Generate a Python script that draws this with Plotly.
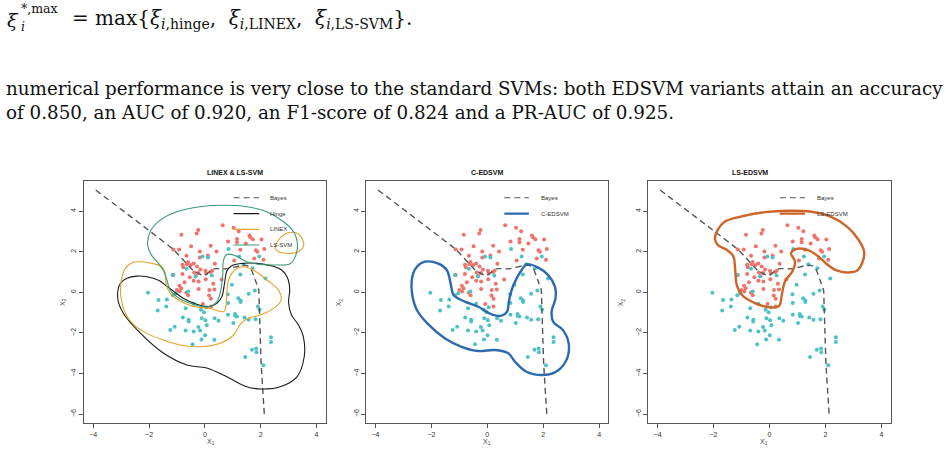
import plotly.graph_objects as go

W, H = 948, 458

# ---------------- data ----------------
red_x = [0.64, 1.03, 1.21, -0.24, -0.29, -0.84, 0.83, 1.15, 1.15, 1.60, 1.63, 1.72, 2.03, 1.47, 1.27,
         1.83, 1.88, 2.13, 2.10, 1.77, 0.42, 0.21, -0.49, -1.13, -0.92, -0.66, -0.18, 0.11, 1.05, 0.36,
         0.26, 0.02, -0.16, -0.28, -0.40, -0.60, -0.64, -0.80, -0.77, -0.80, -1.13, -0.23, -0.38, -0.32,
         -0.54, -0.40, -0.73, -0.91, -1.00, -0.90, -0.66, -0.60, -0.22, 0.16, 0.30, 0.34, 0.15, 0.22,
         -0.07, 0.22, 0.60, -0.18, 0.05, -0.22, 0.03, -0.50, 0.20, -0.85]
red_y = [3.31, 3.18, 3.01, 3.07, 2.90, 2.84, 2.51, 2.63, 2.47, 2.80, 2.72, 2.62, 2.60, 2.41, 2.10,
         2.08, 2.00, 2.13, 1.60, 1.67, 2.01, 2.29, 2.27, 2.11, 2.11, 1.80, 2.01, 1.82, 1.57, 1.41,
         1.06, 1.06, 1.12, 1.27, 1.42, 1.49, 1.39, 1.36, 1.24, 0.91, 0.86, 0.95, 0.98, 0.80,
         0.75, 0.57, 0.50, 0.32, 0.12, 0.04, -0.01, -0.14, 0.17, 0.12, 0.42, 0.14, -0.15, -0.32,
         -0.57, -0.70, 0.63, 1.72, 0.93, 0.54, 0.65, 1.35, 1.00, 0.20]

cyan_x = [0.85, 1.23, 1.95, -0.08, 0.11, -1.16, -0.66, 0.25, 1.27, 1.71, 2.17, 1.39, 0.97, 0.82, 1.79,
          1.57, -2.04, -1.66, -1.36, -1.15, -1.04, -1.69, -1.38, -0.69, -0.79, -0.58, -0.58, -1.24,
          -1.08, -0.69, -0.40, -0.23, -0.17, 0.01, -0.11, 0.02, 0.07, -0.14, -0.03, 0.35, 0.49, 0.83,
          1.02, 1.08, 1.15, 1.09, 1.42, 1.57, 1.82, 1.90, 1.96, 2.37, 2.37, 2.10, 1.45, 1.69, 1.84,
          1.85, -0.44, -0.12, 0.34, -0.34, 0.83, -0.40, -0.60, 1.20, 1.28, 1.28, 0.05]
cyan_y = [2.14, 1.77, 1.77, 1.77, 1.72, 0.86, 1.16, 0.83, 0.88, 1.19, 0.68, 1.39, 0.37, -0.09, 0.09,
          -0.07, -0.02, -0.38, -0.35, -0.14, -0.04, -0.89, -0.70, -0.78, -1.24, -1.35, -1.44, -1.85,
          -1.70, -1.88, -1.93, -1.71, -1.88, -2.11, -1.27, -1.37, -1.62, -0.86, -0.98, -1.27, -1.40, -1.10,
          -1.51, -1.07, -1.19, -1.16, -1.24, -1.35, -1.32, -0.70, -0.86, -2.21, -2.45, -3.59, -3.18, -2.83,
          -2.77, -2.95, -2.55, -2.32, -2.34, 0.78, -0.53, -0.56, 0.04, -0.29, -0.40, -0.48, -0.73]

bayes_x = [-3.91, -1.95, -1.11, -0.40, -0.04, 0.32, 0.79, 1.27, 1.51, 1.65, 1.80, 1.93, 1.95, 1.98, 2.02, 2.13]
bayes_y = [5.04, 2.99, 2.09, 1.06, 0.83, 1.16, 1.16, 1.31, 1.32, 1.16, 0.62, 0.12, -0.62, -1.93, -3.57, -6.00]

hinge_x = [-3.03, -2.79, -2.44, -2.08, -1.66, -1.36, -1.12, -0.76, -0.29, 0.13, 0.43, 0.61, 0.70, 0.79,
           0.95, 1.30, 1.86, 2.40, 2.75, 2.96, 3.04, 3.00, 3.10, 3.35, 3.53, 3.56, 3.30, 2.70, 2.04,
           1.50, 0.79, 0.07, -0.64, -1.49, -2.32, -2.92, -3.12]
hinge_y = [0.44, 0.69, 0.80, 0.77, 0.60, 0.30, 0.05, -0.30, -0.59, -0.71, -0.54, -0.21, 0.40, 1.05,
           1.30, 1.42, 1.43, 1.30, 1.10, 0.72, 0.15, -0.50, -1.10, -1.60, -2.19, -3.17, -4.16, -4.65, -4.76,
           -4.65, -4.16, -3.73, -3.58, -2.99, -2.00, -1.03, -0.30]

linex_x = [-2.32, -1.84, -1.54, -1.42, -1.39, -1.24, -0.88, -0.41, 0.19, 0.67, 0.75, 0.79, 0.85, 1.03,
           1.33, 1.74, 2.22, 2.64, 2.73, 2.46, 1.98, 1.50, 1.27, 1.03, 0.55, -0.17, -0.88, -1.48, -2.08,
           -2.56, -2.85, -3.00, -3.00, -2.85, -2.61]
linex_y = [1.51, 1.41, 1.26, 0.94, 0.44, -0.05, -0.43, -0.69, -0.79, -0.95, -0.71, 0.03, 0.61, 1.05,
           1.26, 1.10, 0.61, 0.11, -0.38, -0.79, -1.12, -1.31, -1.58, -2.10, -2.51, -2.68, -2.59, -2.35,
           -2.02, -1.58, -1.03, -0.30, 0.53, 1.18, 1.46]

linex2_x = [2.52, 2.64, 2.94, 3.30, 3.51, 3.53, 3.35, 3.06, 2.70]
linex2_y = [2.17, 2.58, 2.91, 2.91, 2.58, 2.25, 2.00, 1.92, 1.97]

lssvm_x = [-2.05, -1.96, -1.60, -1.00, -0.17, 0.67, 1.50, 2.22, 2.82, 3.18, 3.32, 3.24, 3.06, 2.58,
           1.98, 1.50, 1.09, 0.79, 0.67, 0.64, 0.57, 0.43, 0.13, -0.41, -0.88, -1.24, -1.36, -1.48,
           -1.66, -1.93]
lssvm_y = [2.33, 2.99, 3.56, 3.97, 4.22, 4.29, 4.22, 3.97, 3.48, 2.99, 2.33, 1.76, 1.41, 1.35,
           1.38, 1.51, 1.81, 1.87, 1.59, 0.85, 0.11, -0.46, -0.71, -0.59, -0.33, 0.11, 0.61, 1.05,
           1.43, 1.87]

cedsvm_x = [-2.23, -1.75, -1.45, -1.30, -1.21, -0.80, -0.32, 0.15, 0.51, 0.71, 0.77, 0.87, 1.05, 1.23,
            1.40, 1.82, 2.18, 2.42, 2.44, 2.30, 2.36, 2.71, 2.92, 2.80, 2.42, 1.94, 1.40, 0.99, 0.75,
            0.27, -0.32, -0.92, -1.51, -2.11, -2.52, -2.70, -2.67, -2.52]
cedsvm_y = [1.51, 1.41, 1.10, 0.36, -0.13, -0.46, -0.71, -1.08, -1.15, -0.95, -0.46, 0.11, 0.69, 1.10,
            1.38, 1.22, 0.85, 0.28, -0.30, -0.95, -1.45, -1.86, -2.59, -3.42, -3.94, -4.07, -3.91, -3.42, -3.00,
            -2.84, -2.89, -2.68, -2.27, -1.58, -0.87, 0.03, 0.85, 1.26]

lsedsvm_x = [0.67, -0.16, -1.00, -1.59, -1.85, -1.95, -1.83, -1.53, -1.29, -1.23, -1.17, -0.99, -0.52,
             0.08, 0.35, 0.44, 0.55, 0.83, 0.91, 0.77, 0.94, 1.33, 1.75, 2.04, 2.40, 2.76, 3.12, 3.33,
             3.38, 3.18, 2.76, 2.16, 1.45]
lsedsvm_y = [4.02, 3.95, 3.74, 3.49, 3.08, 2.64, 2.31, 2.10, 1.77, 1.19, 0.37, -0.12, -0.53,
             -0.75, -0.65, -0.12, 0.54, 1.06, 1.52, 1.93, 2.13, 2.10, 1.77, 1.40, 1.08, 0.98, 1.06, 1.52,
             2.01, 2.59, 3.25, 3.74, 3.98]

titles = ["LINEX & LS-SVM", "C-EDSVM", "LS-EDSVM"]
x_ticks = [-4, -2, 0, 2, 4]
y_ticks = [-6, -4, -2, 0, 2, 4]

# ---------------- styling ----------------
RED = "#ef736b"
CYAN = "#4cc2c6"
C_HINGE = "#1a1a1a"
C_LINEX = "#e5a12a"
C_LSSVM = "#3a9b73"
C_CED = "#2e6aaf"
C_LSED = "#cc6527"
GRAY = "#555555"

fig = go.Figure()

px_dom = [(84, 325.7), (366.3, 608.3), (648.3, 890.7)]
y_top, y_bot = 180.7, 423.3

def close(a):
    return list(a) + [a[0]]

for i in range(3):
    ax = "" if i == 0 else str(i + 1)
    xa, ya = "x" + ax, "y" + ax
    fig.add_trace(go.Scatter(x=red_x, y=red_y, mode="markers", xaxis=xa, yaxis=ya,
                             marker=dict(color=RED, size=4), showlegend=False, hoverinfo="skip"))
    fig.add_trace(go.Scatter(x=cyan_x, y=cyan_y, mode="markers", xaxis=xa, yaxis=ya,
                             marker=dict(color=CYAN, size=4), showlegend=False, hoverinfo="skip"))
    fig.add_trace(go.Scatter(x=bayes_x, y=bayes_y, mode="lines", xaxis=xa, yaxis=ya,
                             line=dict(color=GRAY, width=1.4, dash="6px,4px", shape="spline", smoothing=0.5),
                             showlegend=False, hoverinfo="skip"))

def curve(xs, ys, color, width, ax):
    fig.add_trace(go.Scatter(x=close(xs), y=close(ys), mode="lines", xaxis="x" + ax, yaxis="y" + ax,
                             line=dict(color=color, width=width, shape="spline", smoothing=1.0),
                             showlegend=False, hoverinfo="skip"))

curve(hinge_x, hinge_y, C_HINGE, 1.1, "")
curve(linex_x, linex_y, C_LINEX, 1.1, "")
curve(linex2_x, linex2_y, C_LINEX, 1.1, "")
curve(lssvm_x, lssvm_y, C_LSSVM, 1.1, "")
curve(cedsvm_x, cedsvm_y, C_CED, 2.4, "2")
curve(lsedsvm_x, lsedsvm_y, C_LSED, 2.4, "3")

layout = dict(width=W, height=H, margin=dict(l=0, r=0, t=0, b=0),
              plot_bgcolor="white", paper_bgcolor="white", showlegend=False)

for i, (x0, x1) in enumerate(px_dom):
    ax = "" if i == 0 else str(i + 1)
    layout["xaxis" + ax] = dict(domain=[x0 / W, x1 / W], range=[-4.33, 4.33], anchor="y" + ax,
                                tickvals=x_ticks, ticks="outside", ticklen=4, tickcolor=GRAY,
                                showline=True, mirror=True, linecolor=GRAY, linewidth=1,
                                showgrid=False, zeroline=False,
                                tickfont=dict(family="Liberation Sans", size=7, color="#333"))
    layout["yaxis" + ax] = dict(domain=[1 - y_bot / H, 1 - y_top / H], range=[-6.45, 5.5], anchor="x" + ax,
                                tickvals=y_ticks, ticks="outside", ticklen=4, tickcolor=GRAY, tickangle=-90,
                                showline=True, mirror=True, linecolor=GRAY, linewidth=1,
                                showgrid=False, zeroline=False,
                                tickfont=dict(family="Liberation Sans", size=7, color="#333"))

annotations = []
shapes = []
for i, (x0, x1) in enumerate(px_dom):
    xc = (x0 + x1) / 2 / W
    annotations.append(dict(text="<b>" + titles[i].replace("&", "&amp;") + "</b>", x=xc, y=1 - 172 / H,
                            xref="paper", yref="paper", showarrow=False,
                            font=dict(family="Liberation Sans", size=7, color="#111")))
    annotations.append(dict(text="X<sub>1</sub>", x=xc, y=1 - 448 / H, xref="paper", yref="paper",
                            showarrow=False, font=dict(family="Liberation Sans", size=7, color="#444")))
    annotations.append(dict(text="X<sub>2</sub>", x=(x0 - 27) / W, y=1 - 302 / H, xref="paper", yref="paper",
                            showarrow=False, textangle=-90,
                            font=dict(family="Liberation Sans", size=7, color="#444")))

def legend(ax, entries, lx0, lx1, tx):
    for lab, col, wd, dash, yy in entries:
        shapes.append(dict(type="line", xref="x" + ax, yref="y" + ax, x0=lx0, x1=lx1, y0=yy, y1=yy,
                           line=dict(color=col, width=wd, dash=dash)))
        annotations.append(dict(text=lab, x=tx, y=yy, xref="x" + ax, yref="y" + ax, xanchor="left",
                                showarrow=False, font=dict(family="Liberation Sans", size=6, color="#333")))

legend("", [("Bayes", GRAY, 1.2, "6px,4px", 4.66), ("Hinge", C_HINGE, 1.1, "solid", 3.88),
            ("LINEX", C_LINEX, 1.1, "solid", 3.10), ("LS-SVM", C_LSSVM, 1.1, "solid", 2.33)], 1.03, 1.95, 2.28)
legend("2", [("Bayes", GRAY, 1.2, "6px,4px", 4.66), ("C-EDSVM", C_CED, 2.4, "solid", 3.88)], 0.61, 1.49, 1.85)
legend("3", [("Bayes", GRAY, 1.2, "6px,4px", 4.66), ("LS-EDSVM", C_LSED, 2.4, "solid", 3.88)], 0.37, 1.27, 1.64)

# paper text above the figure
SERIF = "DejaVu Serif"
TXT = "#111"
def ptxt(text, x, y, size, anchor="left"):
    annotations.append(dict(text=text, x=x / W, y=1 - y / H, xref="paper", yref="paper", showarrow=False,
                            xanchor=anchor, yanchor="middle", font=dict(family=SERIF, size=size, color=TXT)))

NB = "\u00a0"
ptxt("<i>ξ</i>", 5, 20, 19)
ptxt("*,max", 19, 8, 12.5)
ptxt("<i>i</i>", 19, 26, 12.5)
ptxt("=" + NB + "max{<i>ξ</i><sub><i>i</i>,hinge</sub>," + NB + NB + "<i>ξ</i><sub><i>i</i>,LINEX</sub>," + NB + NB
     + "<i>ξ</i><sub><i>i</i>,LS-SVM</sub>}.", 70, 19, 20)
ptxt("numerical performance is very close to the standard SVMs: both EDSVM variants attain an accuracy", 4, 89, 18.3)
ptxt("of 0.850, an AUC of 0.920, an F1-score of 0.824 and a PR-AUC of 0.925.", 4, 113, 18.3)

layout["annotations"] = annotations
layout["shapes"] = shapes
fig.update_layout(**layout)
fig.write_html("out.html")
